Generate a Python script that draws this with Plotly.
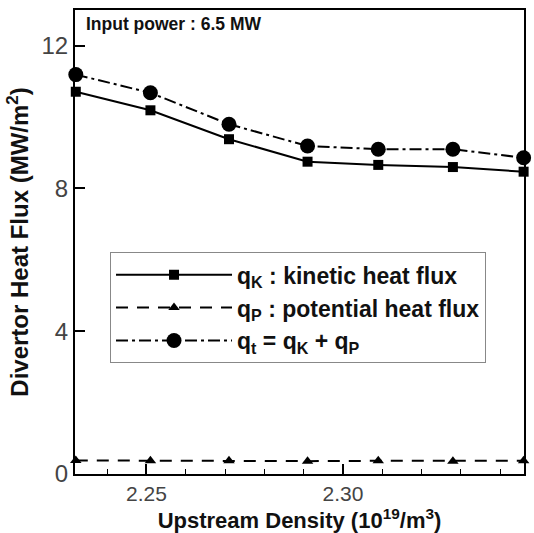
import plotly.graph_objects as go

density = [2.232, 2.251, 2.271, 2.291, 2.309, 2.328, 2.346]
q_kinetic = [10.71, 10.19, 9.38, 8.75, 8.66, 8.60, 8.47]
q_potential = [0.38, 0.37, 0.37, 0.36, 0.37, 0.36, 0.37]
q_total = [11.19, 10.68, 9.80, 9.19, 9.10, 9.10, 8.86]

names = ["q<sub>K</sub> : kinetic heat flux",
         "q<sub>P</sub> : potential heat flux",
         "q<sub>t</sub> = q<sub>K</sub> + q<sub>P</sub>"]

FONT = "Liberation Sans, Arial, sans-serif"

fig = go.Figure()
fig.add_trace(go.Scatter(x=density, y=q_kinetic, name=names[0], mode="lines+markers",
                         line=dict(color="black", width=2, dash="solid"),
                         marker=dict(symbol="square", size=10, color="black"),
                         cliponaxis=False))
fig.add_trace(go.Scatter(x=density, y=q_potential, name=names[1], mode="lines+markers",
                         line=dict(color="black", width=2, dash="12px,9px"),
                         marker=dict(symbol="triangle-up", size=10, color="black"),
                         cliponaxis=False))
fig.add_trace(go.Scatter(x=density, y=q_total, name=names[2], mode="lines+markers",
                         line=dict(color="black", width=2, dash="12px,4px,3px,4px"),
                         marker=dict(symbol="circle", size=15, color="black"),
                         cliponaxis=False))

fig.update_layout(
    width=534, height=533,
    margin=dict(l=75, r=9, t=8, b=59),
    plot_bgcolor="white", paper_bgcolor="white",
    font=dict(family=FONT, color="black"),
    legend=dict(x=0.078, y=0.478, xanchor="left", yanchor="top",
                bgcolor="white", bordercolor="#888", borderwidth=1,
                font=dict(size=23, family=FONT, color="#111", weight="bold"),
                itemwidth=116, tracegroupgap=0),
    showlegend=True,
)
fig.update_xaxes(range=[2.2318, 2.3461], tick0=2.25, dtick=0.05, tickformat=".2f",
                 showline=True, linecolor="black", linewidth=2, mirror=True,
                 ticks="inside", ticklen=10, tickwidth=2, tickcolor="black",
                 minor=dict(dtick=0.01, ticks="inside", ticklen=5, tickwidth=1, tickcolor="black"),
                 showgrid=False, zeroline=False,
                 tickfont=dict(size=21, color="#444"),
                 title=dict(text="<b>Upstream Density (10<sup>19</sup>/m<sup>3</sup>)</b>",
                            font=dict(size=22, color="#111"), standoff=2))
fig.update_yaxes(range=[0, 13], tick0=0, dtick=4,
                 showline=True, linecolor="black", linewidth=2, mirror=True,
                 ticks="inside", ticklen=10, tickwidth=2, tickcolor="black",
                 showgrid=False, zeroline=False,
                 tickfont=dict(size=24, color="#444"),
                 title=dict(text="<b>Divertor Heat Flux (MW/m<sup>2</sup>)</b>",
                            font=dict(size=24, color="#111"), standoff=6))
fig.add_annotation(text="<b>Input power : 6.5 MW</b>", xref="paper", yref="paper",
                   x=0.02, y=0.995, xanchor="left", yanchor="top", showarrow=False,
                   font=dict(size=17.5, color="#111"))

fig.write_html("out.html")
